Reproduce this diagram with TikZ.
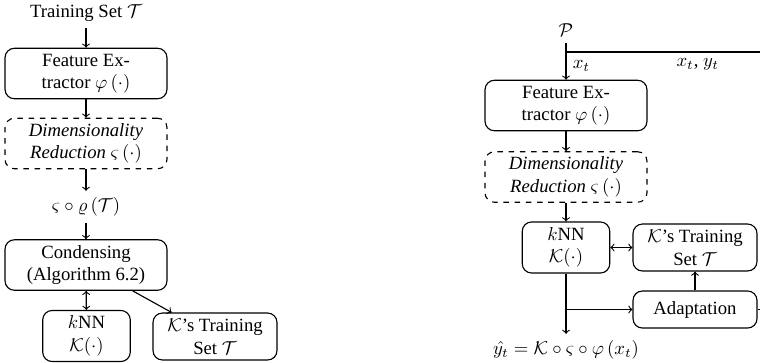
\documentclass[tikz,border=0pt]{standalone}
\usepackage{amsmath}
\usepackage{amssymb}
\usepackage{fontspec}
\setmainfont{Liberation Serif}
\usepackage{tikz}

\begin{document}
\begin{tikzpicture}[x=0.5348pt, y=-0.5348pt, semithick,
  block/.style={draw, rounded corners=5pt, align=center, inner sep=1pt},
  wide/.style={block, minimum width=86.6pt, minimum height=27pt},
  dimred/.style={wide, dashed, font=\itshape},
  small/.style={block, minimum width=46.8pt, minimum height=27.3pt},
  tbox/.style={block, minimum width=66.3pt, minimum height=25.1pt},
  abox/.style={block, minimum width=66.3pt, minimum height=19.8pt}]
\useasboundingbox (0,0) rectangle (760,362);
% offline part
\node (train) at (86,13) {Training Set $\mathcal{T}$};
\node[wide] (featL) at (86,73.5) {Feature Ex-\\tractor $\varphi\left(\cdot\right)$};
\node[dimred] (dimL) at (86,143.5) {Dimensionality\\Reduction $\varsigma\left(\cdot\right)$};
\node (proj) at (86,207) {$\varsigma\circ\varrho\left(\mathcal{T}\right)$};
\node[wide] (cond) at (86,265) {Condensing\\(Algorithm 6.2)};
\node[small] (knnL) at (86.5,336) {$k$NN\\$\mathcal{K}(\cdot)$};
\node[tbox] (tsetL) at (215,336.5) {$\mathcal{K}$'s Training\\Set $\mathcal{T}$};
\draw[->] (train) -- (featL);
\draw[->] (featL) -- (dimL);
\draw[->] (dimL) -- (proj);
\draw[->] (proj) -- (cond);
\draw[<->] (cond) -- (knnL);
\draw[->] (cond) -- (tsetL);
% online part
\node (pool) at (566,30) {$\mathcal{P}$};
\coordinate (split) at (566,52);
\coordinate (corner) at (775,52);
\node[wide] (featR) at (566,105.5) {Feature Ex-\\tractor $\varphi\left(\cdot\right)$};
\node[dimred] (dimR) at (566,177) {Dimensionality\\Reduction $\varsigma\left(\cdot\right)$};
\node[small] (knnR) at (566,247.5) {$k$NN\\$\mathcal{K}(\cdot)$};
\node[tbox] (tsetR) at (695,247.5) {$\mathcal{K}$'s Training\\Set $\mathcal{T}$};
\node[abox] (adapt) at (695,309.5) {Adaptation};
\coordinate (branch) at (566,309.5);
\node (out) at (566,350) {$\hat{y_t} = \mathcal{K}\circ\varsigma\circ\varphi\left(x_t\right)$};
\draw (pool) -- (split);
\draw[->] (split) -- node[right] {$x_t$} (featR);
\draw (split) -- node[below, pos=0.63] {$x_t$, $y_t$} (corner) |- (adapt);
\draw[->] (featR) -- (dimR);
\draw[->] (dimR) -- (knnR);
\draw[<->] (knnR) -- (tsetR);
\draw[->] (knnR) -- (out);
\draw[->] (branch) -- (adapt);
\draw[->] (adapt) -- (tsetR);
\end{tikzpicture}
\end{document}
